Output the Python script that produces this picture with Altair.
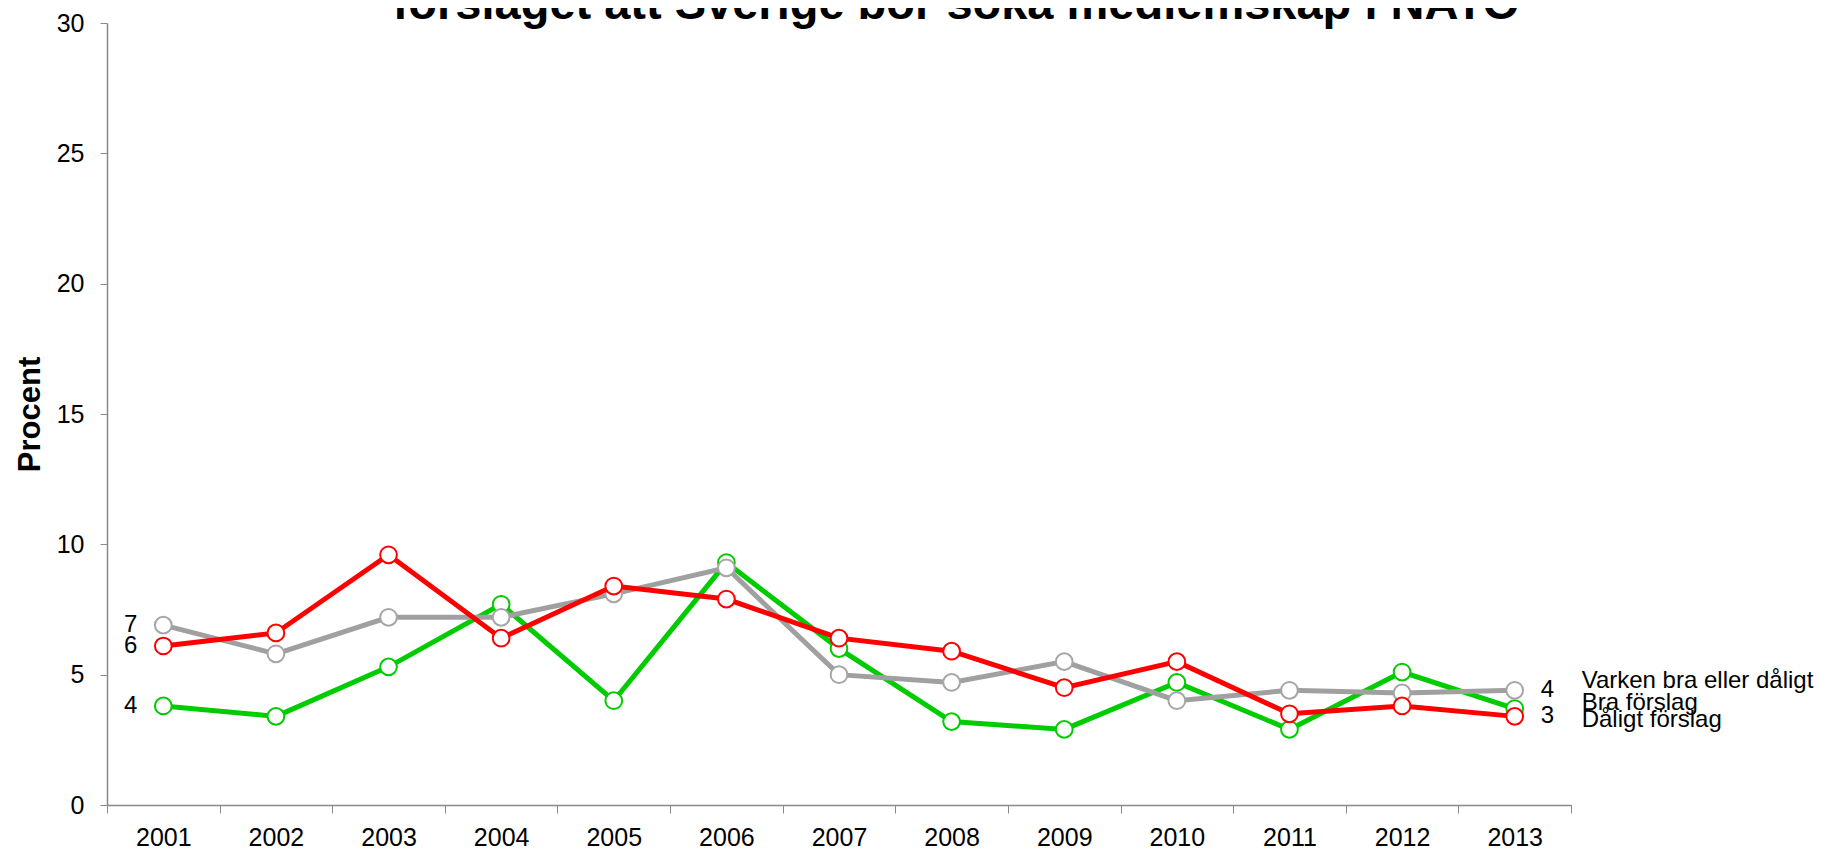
import altair as alt
import pandas as pd

years = ["2001", "2002", "2003", "2004", "2005", "2006", "2007",
         "2008", "2009", "2010", "2011", "2012", "2013"]
bra = [3.8, 3.4, 5.3, 7.7, 4.0, 9.3, 6.0, 3.2, 2.9, 4.7, 2.9, 5.1, 3.7]
varken = [6.9, 5.8, 7.2, 7.2, 8.1, 9.1, 5.0, 4.7, 5.5, 4.0, 4.4, 4.3, 4.4]
daligt = [6.1, 6.6, 9.6, 6.4, 8.4, 7.9, 6.4, 5.9, 4.5, 5.5, 3.5, 3.8, 3.4]

names = ["Bra förslag", "Varken bra eller dåligt", "Dåligt förslag"]
series_values = [bra, varken, daligt]
colors = ["#00CC00", "#A0A0A0", "#FF0000"]
marker_colors = ["#00CC00", "#A6A6A6", "#FF0000"]
title_text = "förslaget att Sverige bör söka medlemskap i NATO"

FONT = "Liberation Sans"

def frame(vals, name):
    return pd.DataFrame({"year": years, "value": vals, "serie": name})

x_enc = alt.X(
    "year:N", sort=years, bandPosition=0.5,
    scale=alt.Scale(type="band", domain=years, paddingInner=0, paddingOuter=0),
    axis=alt.Axis(title=None, tickBand="extent", labelFont=FONT, labelFontSize=25,
                  labelColor="#000000", labelPadding=12, tickSize=8, tickColor="#898989",
                  domainColor="#898989", domainWidth=1.5, tickWidth=1, grid=False,
                  labelAngle=0),
)
y_enc = alt.Y(
    "value:Q",
    scale=alt.Scale(domain=[0, 30], nice=False, zero=True),
    axis=alt.Axis(values=[0, 5, 10, 15, 20, 25, 30], title="Procent", titleFont=FONT,
                  titleFontSize=31, titleFontWeight="bold", titleColor="#000000",
                  titleX=-77, titleY=391, titleAngle=-90, titleAlign="center",
                  titleBaseline="middle",
                  labelFont=FONT, labelFontSize=25, labelColor="#000000", labelPadding=16,
                  tickSize=7, tickColor="#898989", domainColor="#898989", domainWidth=1.5,
                  grid=False),
)

layers = []
for name, vals, col, mcol in zip(names, series_values, colors, marker_colors):
    df = frame(vals, name)
    base = alt.Chart(df).encode(x=x_enc, y=y_enc)
    layers.append(base.mark_line(color=col, strokeWidth=5))
    layers.append(base.mark_point(shape="circle", filled=True, fill="#FFFFFF", stroke=mcol,
                                  strokeWidth=2, size=280, opacity=1))

# left value labels (first points)
left_df = pd.DataFrame({
    "year": [years[0]] * 3,
    "value": [varken[0], daligt[0], bra[0]],
})
left_df["label"] = [f"{v:.0f}" for v in left_df["value"]]
layers.append(alt.Chart(left_df).mark_text(align="right", baseline="middle", dx=-26,
                                           font=FONT, fontSize=24, color="#000000")
              .encode(x=x_enc, y=y_enc, text="label:N"))

# right value labels (last points)
right_df = pd.DataFrame({
    "year": [years[-1]] * 2,
    "value": [varken[-1], daligt[-1]],
})
right_df["label"] = [f"{v:.0f}" for v in right_df["value"]]
layers.append(alt.Chart(right_df).mark_text(align="left", baseline="middle", dx=26,
                                            font=FONT, fontSize=24, color="#000000")
              .encode(x=x_enc, y=y_enc, text="label:N"))

# series names at the right
name_dy = {"Varken bra eller dåligt": -9, "Bra förslag": -6, "Dåligt förslag": 4}
for name, vals in zip(names, series_values):
    ndf = pd.DataFrame({"year": [years[-1]], "value": [vals[-1]], "label": [name]})
    layers.append(alt.Chart(ndf).mark_text(align="left", baseline="middle", dx=67,
                                           dy=name_dy[name], font=FONT, fontSize=24,
                                           color="#000000")
                  .encode(x=x_enc, y=y_enc, text="label:N"))

# chart title (its upper part lies above the visible page, as in the reference)
title_df = pd.DataFrame({"t": [title_text]})
layers.append(alt.Chart(title_df).mark_text(align="center", baseline="alphabetic",
                                            font=FONT, fontSize=47, fontWeight="bold",
                                            color="#000000")
              .encode(text="t:N", x=alt.value(849), y=alt.value(-4)))

chart = alt.layer(*layers).properties(
    width=1464, height=782,
    autosize=alt.AutoSizeParams(type="none"),
    padding={"left": 99, "top": 15, "right": 243, "bottom": 46},
).configure_view(stroke=None)

chart.save("out.html", embed_options={"renderer": "svg", "actions": False})
